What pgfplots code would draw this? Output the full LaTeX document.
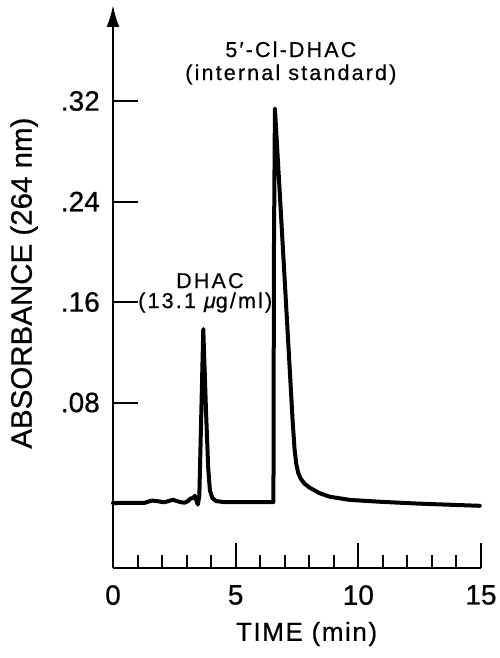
\documentclass[border=0pt]{standalone}
\usepackage{fontspec}
\setmainfont{Liberation Sans}[FakeBold=0.6]
\newfontfamily\annotfont{Liberation Sans}[LetterSpace=10,FakeBold=0.6]
\newfontfamily\xlabfont{Liberation Sans}[LetterSpace=6,FakeBold=0.6]
\usepackage{pgfplots}
\pgfplotsset{compat=1.18}
\usetikzlibrary{arrows.meta}
\pgfplotstableread{
x y
0 0
0.6 0.0001
1.30 0.0002
1.45 0.0012
1.59 0.0019
1.75 0.0017
1.90 0.0012
2.05 0.0006
2.20 0.0012
2.44 0.0026
2.60 0.0016
2.78 0.0006
2.93 0.0003
3.05 0.0015
3.16 0.0036
3.26 0.0040
3.34 0.0058
3.40 0.0020
3.46 -0.0012
3.52 0.0060
3.68 0.1385
3.79 0.074
3.88 0.028
3.95 0.010
4.05 0.004
4.20 0.0016
4.50 0.0008
6.54 0.0008
6.56 0.200
6.60 0.314
6.80 0.246
7.00 0.177
7.20 0.108
7.32 0.066
7.40 0.043
7.47 0.031
7.55 0.024
7.65 0.0195
7.80 0.0155
8.02 0.0122
8.40 0.0080
8.84 0.0050
9.65 0.0025
10.9 0.0010
12.5 -0.0005
14.95 -0.0022
}\chrom
\begin{document}
\begin{tikzpicture}
\useasboundingbox (-113bp,-90bp) rectangle (387bp,568bp);
\begin{axis}[
  scale only axis, width=368bp, height=563bp,
  xmin=0, xmax=15, ymin=-0.0517, ymax=0.3964,
  axis x line=bottom, axis y line=left,
  x axis line style={-, line width=2.5bp},
  y axis line style={-{Latex[length=22bp,width=13bp]}, line width=2.5bp},
  tick align=inside,
  major tick length=25bp, minor tick length=13bp,
  tick style={black, line width=2bp},
  xtick={0,5,10,15}, xticklabels={0,5,10,15},
  minor xtick={1,2,3,4,6,7,8,9,11,12,13,14},
  ytick={0.08,0.16,0.24,0.32}, yticklabels={.08,.16,.24,.32},
  xticklabel style={font=\fontsize{28bp}{30bp}\selectfont, anchor=north, inner sep=0pt, yshift=-17bp},
  yticklabel style={font=\fontsize{28bp}{30bp}\selectfont, anchor=east, inner sep=0pt, xshift=-13bp},
  xlabel={TIME (min)},
  ylabel={ABSORBANCE (264 nm)},
  every axis x label/.style={font=\xlabfont\fontsize{26bp}{28bp}\selectfont, at={(axis description cs:0.526,-0.0954)}, anchor=north, inner sep=0pt},
  every axis y label/.style={font=\fontsize{29.5bp}{31bp}\selectfont, at={(axis description cs:-0.2038,0.506)}, rotate=90, anchor=south, inner sep=0pt},
  clip=false,
]
\addplot[black, line width=4bp, line join=round, line cap=round] table[x=x,y=y] {\chrom};
\node[font=\annotfont\fontsize{21.5bp}{23bp}\selectfont, anchor=base] at (axis cs:7.25,0.355) {5′-Cl-DHAC};
\node[font=\annotfont\fontsize{21.5bp}{23bp}\selectfont, anchor=base] at (axis cs:7.25,0.3367) {(internal standard)};
\node[font=\annotfont\fontsize{21.5bp}{23bp}\selectfont, anchor=base] at (axis cs:3.95,0.1711) {DHAC};
\node[font=\annotfont\fontsize{21.5bp}{23bp}\selectfont, anchor=base] at (axis cs:3.76,0.1552) {(13.1 {\itshape μ}g/ml)};
\end{axis}
\end{tikzpicture}
\end{document}
